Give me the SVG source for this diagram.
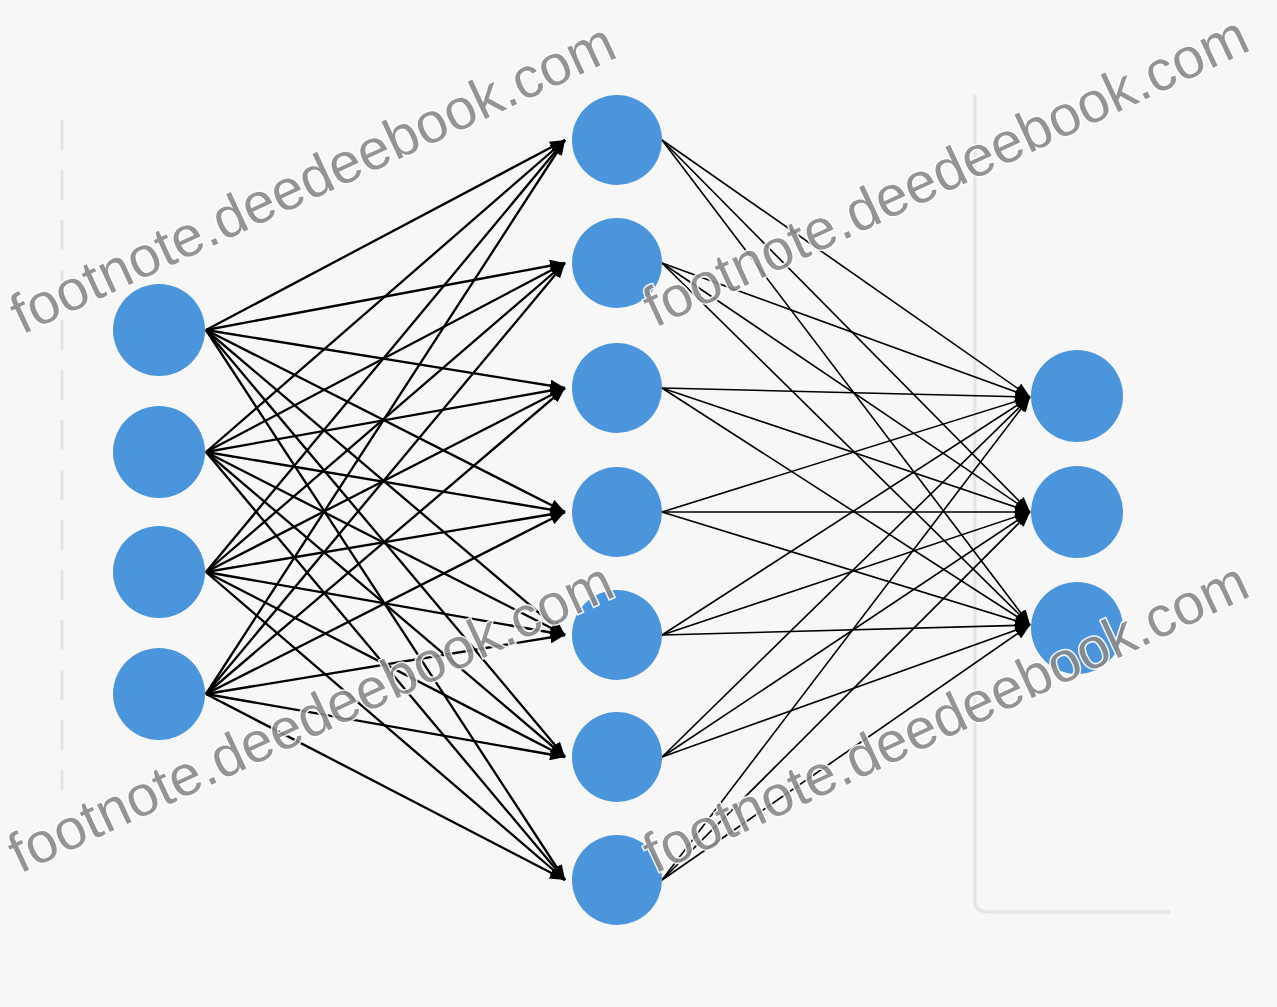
<svg xmlns="http://www.w3.org/2000/svg" width="1277" height="1007" viewBox="0 0 1277 1007">
<style>
.node{fill:#4b95dc;}
.c1 line{stroke:#000;stroke-width:2.3;marker-end:url(#ah);}
.c2 line{stroke:#000;stroke-width:1.6;marker-end:url(#ah);}
.wm{font-family:"Liberation Sans",Arial,sans-serif;font-size:57px;fill:#8a8a8a;stroke:#ffffff;stroke-width:3;paint-order:stroke;opacity:0.9;}
.faint{stroke:#e4e4e4;stroke-width:3;fill:none;}
</style>
<defs>
<marker id="ah" markerUnits="userSpaceOnUse" markerWidth="16" markerHeight="12" refX="15" refY="6" orient="auto">
<path d="M0,0 L15,6 L0,12 z" fill="#000"/>
</marker>
</defs>
<rect width="1277" height="1007" fill="#f7f7f7"/>
<line class="faint" x1="62" y1="120" x2="62" y2="790" stroke-dasharray="30 20"/>
<path class="faint" d="M975,95 L975,905 Q977,912 990,912 L1170,912"/>
<g id="connectors">
<g class="c1">
<line x1="206" y1="330" x2="565" y2="140"/><line x1="206" y1="330" x2="565" y2="263"/><line x1="206" y1="330" x2="565" y2="388"/><line x1="206" y1="330" x2="565" y2="512"/><line x1="206" y1="330" x2="565" y2="635"/><line x1="206" y1="330" x2="565" y2="757"/><line x1="206" y1="330" x2="565" y2="880"/>
<line x1="206" y1="452" x2="565" y2="140"/><line x1="206" y1="452" x2="565" y2="263"/><line x1="206" y1="452" x2="565" y2="388"/><line x1="206" y1="452" x2="565" y2="512"/><line x1="206" y1="452" x2="565" y2="635"/><line x1="206" y1="452" x2="565" y2="757"/><line x1="206" y1="452" x2="565" y2="880"/>
<line x1="206" y1="572" x2="565" y2="140"/><line x1="206" y1="572" x2="565" y2="263"/><line x1="206" y1="572" x2="565" y2="388"/><line x1="206" y1="572" x2="565" y2="512"/><line x1="206" y1="572" x2="565" y2="635"/><line x1="206" y1="572" x2="565" y2="757"/><line x1="206" y1="572" x2="565" y2="880"/>
<line x1="206" y1="694" x2="565" y2="140"/><line x1="206" y1="694" x2="565" y2="263"/><line x1="206" y1="694" x2="565" y2="388"/><line x1="206" y1="694" x2="565" y2="512"/><line x1="206" y1="694" x2="565" y2="635"/><line x1="206" y1="694" x2="565" y2="757"/><line x1="206" y1="694" x2="565" y2="880"/>
</g>
<g class="c2">
<line x1="662" y1="140" x2="1030" y2="397"/><line x1="662" y1="140" x2="1030" y2="512"/><line x1="662" y1="140" x2="1030" y2="625"/>
<line x1="662" y1="263" x2="1030" y2="397"/><line x1="662" y1="263" x2="1030" y2="512"/><line x1="662" y1="263" x2="1030" y2="625"/>
<line x1="662" y1="388" x2="1030" y2="397"/><line x1="662" y1="388" x2="1030" y2="512"/><line x1="662" y1="388" x2="1030" y2="625"/>
<line x1="662" y1="512" x2="1030" y2="397"/><line x1="662" y1="512" x2="1030" y2="512"/><line x1="662" y1="512" x2="1030" y2="625"/>
<line x1="662" y1="635" x2="1030" y2="397"/><line x1="662" y1="635" x2="1030" y2="512"/><line x1="662" y1="635" x2="1030" y2="625"/>
<line x1="662" y1="757" x2="1030" y2="397"/><line x1="662" y1="757" x2="1030" y2="512"/><line x1="662" y1="757" x2="1030" y2="625"/>
<line x1="662" y1="880" x2="1030" y2="397"/><line x1="662" y1="880" x2="1030" y2="512"/><line x1="662" y1="880" x2="1030" y2="625"/>
</g>
</g>
<g id="in1"><circle class="node" cx="159" cy="330" r="46"/></g>
<g id="in2"><circle class="node" cx="159" cy="452" r="46"/></g>
<g id="in3"><circle class="node" cx="159" cy="572" r="46"/></g>
<g id="in4"><circle class="node" cx="159" cy="694" r="46"/></g>
<g id="h1"><circle class="node" cx="617" cy="140" r="45"/></g>
<g id="h2"><circle class="node" cx="617" cy="263" r="45"/></g>
<g id="h3"><circle class="node" cx="617" cy="388" r="45"/></g>
<g id="h4"><circle class="node" cx="617" cy="512" r="45"/></g>
<g id="h5"><circle class="node" cx="617" cy="635" r="45"/></g>
<g id="h6"><circle class="node" cx="617" cy="757" r="45"/></g>
<g id="h7"><circle class="node" cx="617" cy="880" r="45"/></g>
<g id="o1"><circle class="node" cx="1077" cy="396" r="46"/></g>
<g id="o2"><circle class="node" cx="1077" cy="512" r="46"/></g>
<g id="o3"><circle class="node" cx="1077" cy="628" r="46"/></g>
<g id="watermarks">
<text class="wm" transform="translate(22,335) rotate(-25)">footnote.deedeebook.com</text>
<text class="wm" transform="translate(655,328) rotate(-25)">footnote.deedeebook.com</text>
<text class="wm" transform="translate(20,874) rotate(-25)">footnote.deedeebook.com</text>
<text class="wm" transform="translate(655,874) rotate(-25)">footnote.deedeebook.com</text>
</g>
</svg>
